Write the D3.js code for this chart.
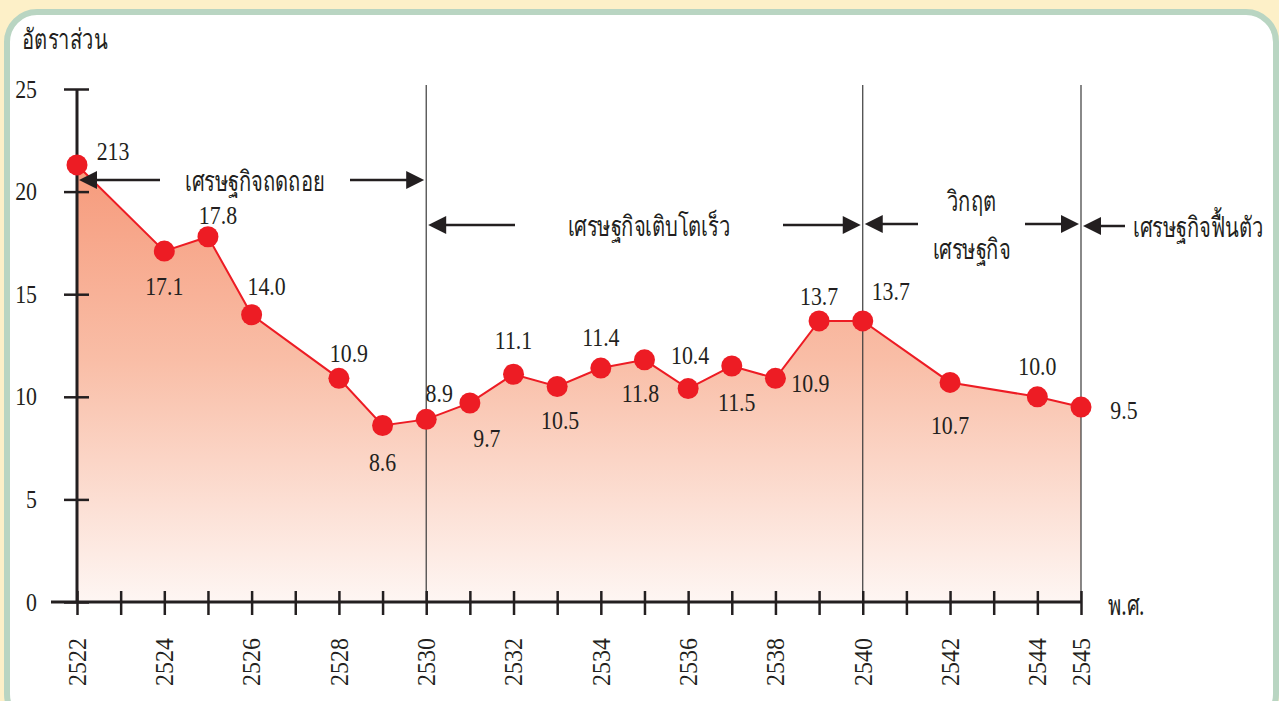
<!DOCTYPE html>
<html>
<head>
<meta charset="utf-8">
<script src="https://cdn.jsdelivr.net/npm/d3@7"></script>
<style>
  html, body { margin: 0; padding: 0; background: #fdf0c8; }
  svg { display: block; }
</style>
</head>
<body>
<svg id="chart" width="1279" height="701"></svg>
<script>
// data
var years  = [2522, 2524, 2525, 2526, 2528, 2529, 2530, 2531, 2532, 2533, 2534, 2535, 2536, 2537, 2538, 2539, 2540, 2542, 2544, 2545];
var values = [21.3, 17.1, 17.8, 14.0, 10.9, 8.6, 8.9, 9.7, 11.1, 10.5, 11.4, 11.8, 10.4, 11.5, 10.9, 13.7, 13.7, 10.7, 10.0, 9.5];
var labels = ["213", "17.1", "17.8", "14.0", "10.9", "8.6", "8.9", "9.7", "11.1", "10.5", "11.4", "11.8", "10.4", "11.5", "10.9", "13.7", "13.7", "10.7", "10.0", "9.5"];
var xTickLabels = [2522, 2524, 2526, 2528, 2530, 2532, 2534, 2536, 2538, 2540, 2542, 2544, 2545];
var yTicks = [0, 5, 10, 15, 20, 25];

var periodStart = [2522, 2530, 2540, 2545];
var periodEnd   = [2530, 2540, 2545, null];
var periodName  = ["เศรษฐกิจถดถอย", "เศรษฐกิจเติบโตเร็ว", "วิกฤต|เศรษฐกิจ", "เศรษฐกิจฟื้นตัว"];

// label offsets from each dot (dx, dy)
var labelOffset = [[36,-14],[0,35],[10,-21],[15,-28],[10,-25],[0,37],[13,-26],[17,35],[0,-34],[3,34],
                   [0,-31],[-4,33],[2,-33],[5,36],[35,5],[0,-25],[28,-30],[0,43],[0,-30],[43,3]];

var NUM_SX = 0.84, THAI_SX = 0.72;
var fonts = {
  num:  {family: "'Liberation Serif', 'Times New Roman', Times, 'DejaVu Serif', serif", size: 26},
  thai: {family: "'Noto Sans', 'DejaVu Sans', sans-serif", size: 28}
};

var svg = d3.select('#chart');

// squeezed text, like the condensed print faces
function sqText(kind, tx, ty, str, anchor, sx, rot) {
  return svg.append('text')
    .attr('font-family', fonts[kind].family)
    .attr('font-size', fonts[kind].size)
    .attr('fill', '#231f20')
    .attr('text-anchor', anchor || 'start')
    .attr('dominant-baseline', 'central')
    .attr('transform', 'translate(' + tx + ',' + ty + ')' + (rot ? ' rotate(' + rot + ')' : '') + ' scale(' + sx + ',1)')
    .text(str);
}

// panel
svg.append('rect')
  .attr('x', 7).attr('y', 12)
  .attr('width', 1269).attr('height', 712)
  .attr('rx', 30).attr('ry', 30)
  .attr('fill', '#ffffff')
  .attr('stroke', '#b9d5c2')
  .attr('stroke-width', 6);

var x = d3.scaleLinear().domain([2522, 2545]).range([77, 1081]);
var y = d3.scaleLinear().domain([0, 25]).range([602, 89]);

var defs = svg.append('defs');
var grad = defs.append('linearGradient')
  .attr('id', 'areaGrad')
  .attr('gradientUnits', 'userSpaceOnUse')
  .attr('x1', 0).attr('x2', 0)
  .attr('y1', y(21.3)).attr('y2', y(0));
grad.append('stop').attr('offset', '0%').attr('stop-color', '#f69a7b');
grad.append('stop').attr('offset', '45%').attr('stop-color', '#f9bea7');
grad.append('stop').attr('offset', '100%').attr('stop-color', '#fef6f3');

var pts = years.map(function (yr, i) { return {year: yr, value: values[i], label: labels[i], off: labelOffset[i]}; });

var area = d3.area()
  .x(function (d) { return x(d.year); })
  .y0(y(0))
  .y1(function (d) { return y(d.value); });

svg.append('path')
  .datum(pts)
  .attr('d', area)
  .attr('fill', 'url(#areaGrad)');

// period separators
svg.selectAll('.sep').data([2530, 2540, 2545]).enter()
  .append('line')
  .attr('class', 'sep')
  .attr('x1', function (d) { return x(d); })
  .attr('x2', function (d) { return x(d); })
  .attr('y1', 85).attr('y2', y(0))
  .attr('stroke', '#3a3a3a')
  .attr('stroke-width', 1.2);

// y axis
var yAxis = svg.append('g')
  .attr('transform', 'translate(' + x(2522) + ',0)')
  .call(d3.axisLeft(y).tickValues(yTicks).tickSize(0).tickFormat(''));
yAxis.select('.domain').remove();
yAxis.selectAll('.tick line').attr('x1', -13).attr('x2', 12).attr('stroke', '#231f20').attr('stroke-width', 2.5);
yTicks.forEach(function (t) { sqText('num', 37, y(t), t, 'end', NUM_SX); });
svg.append('line')
  .attr('x1', x(2522)).attr('x2', x(2522))
  .attr('y1', y(25)).attr('y2', y(0))
  .attr('stroke', '#231f20').attr('stroke-width', 3);

// x axis
var xAxis = svg.append('g')
  .attr('transform', 'translate(0,' + y(0) + ')')
  .call(d3.axisBottom(x).tickValues(d3.range(2522, 2546)).tickSize(0).tickFormat(''));
xAxis.select('.domain').remove();
xAxis.selectAll('.tick line').attr('y1', -11).attr('y2', 13).attr('stroke', '#231f20').attr('stroke-width', 2.5);
svg.append('line')
  .attr('x1', 51).attr('x2', x(2545))
  .attr('y1', y(0)).attr('y2', y(0))
  .attr('stroke', '#231f20').attr('stroke-width', 3);

xTickLabels.forEach(function (d) { sqText('num', x(d), 662, d, 'middle', 0.92, -90); });

sqText('thai', 1108, 604, 'พ.ศ.', 'start', THAI_SX);
sqText('thai', 22, 38, 'อัตราส่วน', 'start', THAI_SX);

// line + dots
var line = d3.line()
  .x(function (d) { return x(d.year); })
  .y(function (d) { return y(d.value); });

svg.append('path')
  .datum(pts)
  .attr('d', line)
  .attr('fill', 'none')
  .attr('stroke', '#ed1c24')
  .attr('stroke-width', 2);

svg.selectAll('.dot').data(pts).enter()
  .append('circle')
  .attr('class', 'dot')
  .attr('cx', function (d) { return x(d.year); })
  .attr('cy', function (d) { return y(d.value); })
  .attr('r', 10.5)
  .attr('fill', '#ed1c24');

pts.forEach(function (d) {
  sqText('num', x(d.year) + d.off[0], y(d.value) + d.off[1], d.label, 'middle', NUM_SX);
});

// period arrows
var arrowY = [180, 225, 224, 226];
var textGap = [[160, 350], [515, 783], [918, 1025], [1125, null]];

function arrowHead(px, py, dir) {
  // dir: -1 points left, +1 points right
  var len = 18, half = 9;
  return 'M' + px + ',' + py + 'L' + (px - dir * len) + ',' + (py - half) + 'L' + (px - dir * len) + ',' + (py + half) + 'Z';
}

periodStart.forEach(function (s, i) {
  var ay = arrowY[i];
  var lx = x(s) + 2;
  svg.append('path').attr('d', arrowHead(lx, ay, -1)).attr('fill', '#231f20');
  svg.append('line').attr('x1', lx + 16).attr('x2', textGap[i][0]).attr('y1', ay).attr('y2', ay)
    .attr('stroke', '#231f20').attr('stroke-width', 2.5);
  if (periodEnd[i] !== null) {
    var rx = x(periodEnd[i]) - 2;
    svg.append('path').attr('d', arrowHead(rx, ay, 1)).attr('fill', '#231f20');
    svg.append('line').attr('x1', textGap[i][1]).attr('x2', rx - 16).attr('y1', ay).attr('y2', ay)
      .attr('stroke', '#231f20').attr('stroke-width', 2.5);
  }
  var parts = periodName[i].split('|');
  var cx = periodEnd[i] !== null ? (textGap[i][0] + textGap[i][1]) / 2 : null;
  if (parts.length === 1) {
    sqText('thai', cx !== null ? cx : 1133, ay, parts[0], cx !== null ? 'middle' : 'start', THAI_SX);
  } else {
    parts.forEach(function (p, j) {
      sqText('thai', cx, ay - 24 + j * 48, p, 'middle', THAI_SX);
    });
  }
});
</script>
</body>
</html>
